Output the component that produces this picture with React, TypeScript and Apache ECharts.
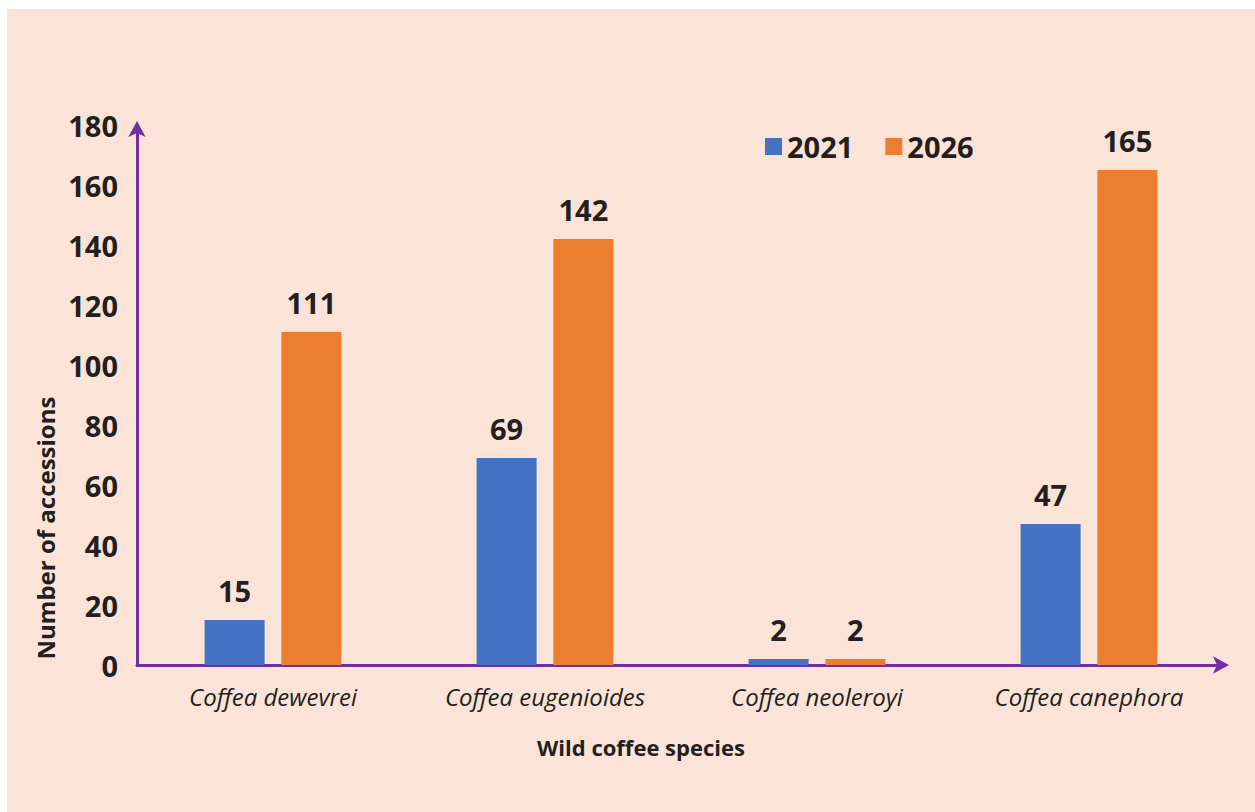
import React, { useEffect, useRef } from "react";
import * as echarts from "echarts";

const categories = ["Coffea dewevrei", "Coffea eugenioides", "Coffea neoleroyi", "Coffea canephora"];
const series2021 = [15, 69, 2, 47];
const series2026 = [111, 142, 2, 165];
const seriesNames = ["2021", "2026"];

const FONT = "'Open Sans', 'DejaVu Sans', sans-serif";
const TEXT = "#231F20";
const AXIS = "#7030A0";

export default function App() {
  const ref = useRef<HTMLDivElement>(null);
  useEffect(() => {
    if (!ref.current) return;
    const chart = echarts.init(ref.current, null, { renderer: "svg" });
    const label = {
      show: true,
      position: "top",
      distance: 15,
      fontFamily: FONT,
      fontWeight: "bold",
      fontSize: 29,
      color: TEXT,
    };
    chart.setOption({
      animation: false,
      backgroundColor: "#FBE4D7",
      textStyle: { fontFamily: FONT },
      legend: {
        left: 753,
        top: 118,
        itemWidth: 17,
        itemHeight: 17,
        itemGap: 32,
        icon: "rect",
        textStyle: { fontFamily: FONT, fontWeight: "bold", fontSize: 29, color: TEXT },
        data: seriesNames,
      },
      grid: { left: 130, right: 30, top: 116, bottom: 147, containLabel: false },
      xAxis: {
        type: "category",
        data: categories,
        name: "Wild coffee species",
        nameLocation: "middle",
        nameGap: 71,
        nameTextStyle: {
          fontFamily: FONT,
          fontWeight: "bold",
          fontSize: 22,
          color: TEXT,
          padding: [0, 80, 0, 0],
        },
        axisLine: {
          show: true,
          lineStyle: { color: AXIS, width: 3 },
          symbol: ["none", "arrow"],
          symbolSize: [13, 16],
          symbolOffset: [0, 4],
        },
        axisTick: { show: false },
        axisLabel: { fontFamily: FONT, fontStyle: "italic", fontSize: 24, color: TEXT, margin: 19 },
      },
      yAxis: {
        type: "value",
        min: 0,
        max: 180,
        interval: 20,
        name: "Number of accessions",
        nameLocation: "middle",
        nameGap: 80,
        nameTextStyle: {
          fontFamily: FONT,
          fontWeight: "bold",
          fontSize: 24,
          color: TEXT,
          padding: [0, 266, 0, 0],
        },
        axisLine: {
          show: true,
          lineStyle: { color: AXIS, width: 3 },
          symbol: ["none", "arrow"],
          symbolSize: [13, 16],
          symbolOffset: [0, 4],
        },
        axisTick: { show: false },
        splitLine: { show: false },
        axisLabel: { fontFamily: FONT, fontWeight: "bold", fontSize: 29, color: TEXT, margin: 19 },
      },
      series: [
        {
          name: seriesNames[0],
          type: "bar",
          data: series2021,
          barWidth: 60,
          barGap: "28%",
          itemStyle: { color: "#4472C4" },
          label,
        },
        {
          name: seriesNames[1],
          type: "bar",
          data: series2026,
          barWidth: 60,
          barGap: "28%",
          itemStyle: { color: "#ED7D31" },
          label,
        },
      ],
    });
    return () => chart.dispose();
  }, []);
  return (
    <div
      ref={ref}
      style={{ position: "fixed", left: 7, top: 9, width: 1248, height: 803 }}
    />
  );
}
